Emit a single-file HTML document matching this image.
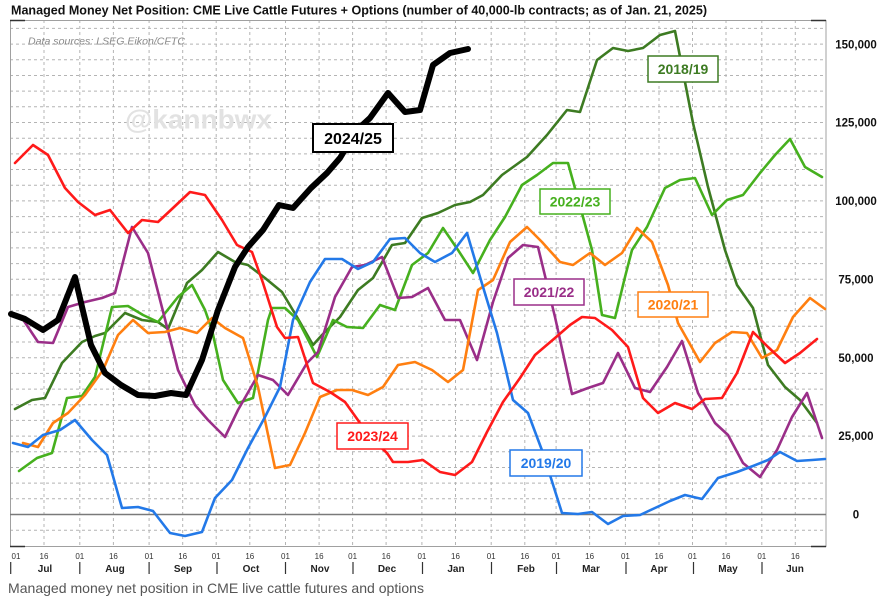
<!DOCTYPE html>
<html><head><meta charset="utf-8"><style>
html,body{margin:0;padding:0;background:#fff;}
svg{display:block;font-family:"Liberation Sans",Arial,sans-serif;}
</style></head><body>
<svg width="893" height="598" viewBox="0 0 893 598" xmlns="http://www.w3.org/2000/svg">
<rect width="893" height="598" fill="#fff"/>
<!-- title -->
<text x="11" y="14.5" font-size="13" font-weight="bold" fill="#111" textLength="696" lengthAdjust="spacingAndGlyphs">Managed Money Net Position: CME Live Cattle Futures + Options (number of 40,000-lb contracts; as of Jan. 21, 2025)</text>
<!-- grid horizontal -->
<g stroke="#b4b4b4" stroke-width="1" stroke-dasharray="3,3" fill="none">
<path d="M10 530.2H826M10 498.8H826M10 483.1H826M10 467.5H826M10 451.8H826M10 436.1H826M10 420.4H826M10 404.7H826M10 389.1H826M10 373.4H826M10 357.7H826M10 342H826M10 326.3H826M10 310.7H826M10 295H826M10 279.3H826M10 263.6H826M10 247.9H826M10 232.3H826M10 216.6H826M10 200.9H826M10 185.2H826M10 169.5H826M10 153.9H826M10 138.2H826M10 122.5H826M10 106.8H826M10 91.1H826M10 75.5H826M10 59.8H826M10 44.1H826M10 28.4H826"/>
<path d="M44 20V546M79.8 20V546M113.4 20V546M149.1 20V546M182.7 20V546M216.2 20V546M249.8 20V546M285.5 20V546M319.1 20V546M352.6 20V546M386.1 20V546M421.9 20V546M455.5 20V546M491.2 20V546M524.8 20V546M556.1 20V546M589.6 20V546M625.4 20V546M659 20V546M692.5 20V546M726 20V546M761.8 20V546M795.3 20V546"/>
</g>
<!-- frame -->
<rect x="10.5" y="20.5" width="815.5" height="526" fill="none" stroke="#a0a0a0" stroke-width="1"/>
<path d="M10 20.5H25M10 546.5H25M811 546.5H826M811 20.5H826" stroke="#333" stroke-width="1.5"/>
<!-- zero line -->
<line x1="10" y1="514.5" x2="826" y2="514.5" stroke="#7a7a7a" stroke-width="1.6"/>
<!-- source & watermark -->
<text x="28" y="44.5" font-size="10.5" font-style="italic" fill="#8a8a8a" textLength="157" lengthAdjust="spacingAndGlyphs">Data sources: LSEG Eikon/CFTC</text>
<text x="125" y="128.5" font-size="27" font-weight="bold" fill="#e2e2e2" textLength="147" lengthAdjust="spacingAndGlyphs">@kannbwx</text>
<!-- series -->
<g fill="none" stroke-linejoin="round" stroke-linecap="round" stroke-width="2.6">
<polyline stroke="#3d7b22" points="15,409 32,400 45,398 62,363 82,342 95,336 105,333 125,313 142,320 158,322 168,329 187,283 202,270 218,252 235,262 248,265 265,278 282,292 297,317 313,345 322,335 340,317 358,290 373,278 392,245 405,243 422,218 438,213 455,205 470,202 483,195 502,175 527,157 547,135 567,110 580,112 597,60 613,48 628,51 643,48 660,35 675,31 693,123 708,187 725,250 737,285 753,308 768,365 785,387 800,400 817,423"/>
<polyline stroke="#46b01e" points="19,471 37,458 52,453 67,398 82,396 95,377 112,307 128,306 143,315 158,322 178,297 192,285 205,310 212,330 223,380 238,403 253,398 268,320 272,308 285,308 298,320 317,357 333,320 347,327 363,328 380,305 395,310 412,265 428,253 443,228 458,250 473,273 490,240 505,217 522,185 537,175 553,163 568,163 583,217 592,250 602,315 615,318 625,277 632,250 647,227 665,188 680,180 695,178 712,215 727,200 743,195 760,173 775,155 790,139 805,167 822,177"/>
<polyline stroke="#9a2e88" points="22,318 38,342 53,343 68,307 85,302 102,298 115,293 132,227 148,253 167,327 178,370 195,405 208,420 225,437 238,410 258,375 273,380 288,395 307,363 318,352 335,297 352,267 365,265 382,257 398,298 412,297 428,288 445,320 460,320 477,360 493,302 508,258 523,245 538,247 555,317 572,394 588,388 603,383 618,353 635,388 650,392 667,367 682,341 698,393 715,423 728,435 743,463 760,477 777,450 792,417 807,393 822,438"/>
<polyline stroke="#ff7f10" points="23,443 38,447 53,423 68,413 85,395 103,370 118,335 133,320 148,333 165,332 180,328 197,333 212,318 225,328 243,338 258,387 275,468 290,465 305,433 320,397 337,390 352,390 368,395 383,387 398,365 415,362 432,370 448,382 463,370 478,290 493,280 510,242 527,227 542,242 560,262 573,265 590,253 605,265 622,253 637,228 652,242 668,285 678,323 700,362 715,343 732,332 747,333 762,358 777,350 793,317 810,298 825,309"/>
<polyline stroke="#2379e8" points="13,443 28,447 43,435 60,430 75,420 92,440 107,455 122,508 138,507 153,511 170,533 185,536 202,532 215,498 232,480 248,448 265,417 280,387 293,320 310,282 325,259 342,259 358,269 373,262 390,239 405,238 420,253 435,262 452,253 467,233 480,277 497,333 513,400 528,413 543,453 562,513 578,514 592,512 608,524 623,516 640,515 655,508 670,501 685,495 702,499 718,478 737,472 753,466 768,460 780,452 797,461 812,460 825,459"/>
<polyline stroke="#ff1a1a" points="15,163 33,145 48,155 65,188 78,202 95,215 110,210 128,233 142,220 158,222 173,208 190,192 205,195 222,220 237,245 252,252 263,283 277,327 285,338 298,337 313,383 330,392 345,402 360,423 375,442 387,453 393,462 408,462 423,460 440,472 455,475 472,462 487,432 503,402 520,378 535,355 555,338 570,325 582,317 595,318 612,330 628,347 643,398 658,413 675,403 692,409 705,399 722,398 737,373 753,332 768,347 785,363 800,353 817,339"/>
<polyline stroke="#000" stroke-width="6" points="11,314 25,319 43,330 58,320 75,277 91,345 105,373 121,385 138,395 155,396 171,393 186,395 202,360 218,310 235,267 248,247 263,230 279,205 293,208 311,188 327,173 340,158 357,130 370,118 388,93 405,112 420,110 433,65 450,53 468,49"/>
</g>
<!-- series labels -->
<g font-weight="bold" text-anchor="middle">
<rect x="313" y="124" width="80" height="28" fill="#fff" stroke="#000" stroke-width="2"/>
<text x="353" y="144" font-size="16" fill="#000">2024/25</text>
<rect x="648" y="56" width="70" height="26" fill="#fff" stroke="#3d7b22" stroke-width="1.5"/>
<text x="683" y="74" font-size="14" fill="#3d7b22">2018/19</text>
<rect x="540" y="189" width="70" height="25" fill="#fff" stroke="#46b01e" stroke-width="1.5"/>
<text x="575" y="206.5" font-size="14" fill="#46b01e">2022/23</text>
<rect x="514" y="279" width="70" height="26" fill="#fff" stroke="#9a2e88" stroke-width="1.5"/>
<text x="549" y="297" font-size="14" fill="#9a2e88">2021/22</text>
<rect x="638" y="292" width="70" height="25" fill="#fff" stroke="#ff7f10" stroke-width="1.5"/>
<text x="673" y="309.5" font-size="14" fill="#ff7f10">2020/21</text>
<rect x="337" y="423" width="71" height="26" fill="#fff" stroke="#ff1a1a" stroke-width="1.5"/>
<text x="372.5" y="441" font-size="14" fill="#ff1a1a">2023/24</text>
<rect x="510" y="450" width="72" height="26" fill="#fff" stroke="#2379e8" stroke-width="1.5"/>
<text x="546" y="468" font-size="14" fill="#2379e8">2019/20</text>
</g>
<!-- right axis -->
<g font-size="11.5" font-weight="bold" fill="#111" text-anchor="middle">
<text x="856" y="48.3">150,000</text>
<text x="856" y="126.7">125,000</text>
<text x="856" y="205">100,000</text>
<text x="856" y="283.5">75,000</text>
<text x="856" y="362">50,000</text>
<text x="856" y="440">25,000</text>
<text x="856" y="518.5">0</text>
</g>
<!-- x axis ticks -->
<g font-size="8" fill="#333" text-anchor="middle">
<text x="16" y="559">01</text><text x="44" y="559">16</text>
<text x="79.8" y="559">01</text><text x="113.4" y="559">16</text>
<text x="149.1" y="559">01</text><text x="182.7" y="559">16</text>
<text x="216.2" y="559">01</text><text x="249.8" y="559">16</text>
<text x="285.5" y="559">01</text><text x="319.1" y="559">16</text>
<text x="352.6" y="559">01</text><text x="386.1" y="559">16</text>
<text x="421.9" y="559">01</text><text x="455.5" y="559">16</text>
<text x="491.2" y="559">01</text><text x="524.8" y="559">16</text>
<text x="556.1" y="559">01</text><text x="589.6" y="559">16</text>
<text x="625.4" y="559">01</text><text x="659" y="559">16</text>
<text x="692.5" y="559">01</text><text x="726" y="559">16</text>
<text x="761.8" y="559">01</text><text x="795.3" y="559">16</text>
</g>
<g font-size="10" font-weight="bold" fill="#222" text-anchor="middle">
<text x="45" y="572">Jul</text>
<text x="115" y="572">Aug</text>
<text x="183" y="572">Sep</text>
<text x="251" y="572">Oct</text>
<text x="320" y="572">Nov</text>
<text x="387" y="572">Dec</text>
<text x="456" y="572">Jan</text>
<text x="526" y="572">Feb</text>
<text x="591" y="572">Mar</text>
<text x="659" y="572">Apr</text>
<text x="728" y="572">May</text>
<text x="795" y="572">Jun</text>
</g>
<path d="M10.7 562V574M79.8 562V574M149.1 562V574M217 562V574M285.5 562V574M353 562V574M422.5 562V574M491.5 562V574M556.5 562V574M626 562V574M693.5 562V574M762 562V574" stroke="#333" stroke-width="1.2"/>
<!-- caption -->
<text x="8" y="593" font-size="14" fill="#555" textLength="416" lengthAdjust="spacingAndGlyphs">Managed money net position in CME live cattle futures and options</text>
</svg>
</body></html>
